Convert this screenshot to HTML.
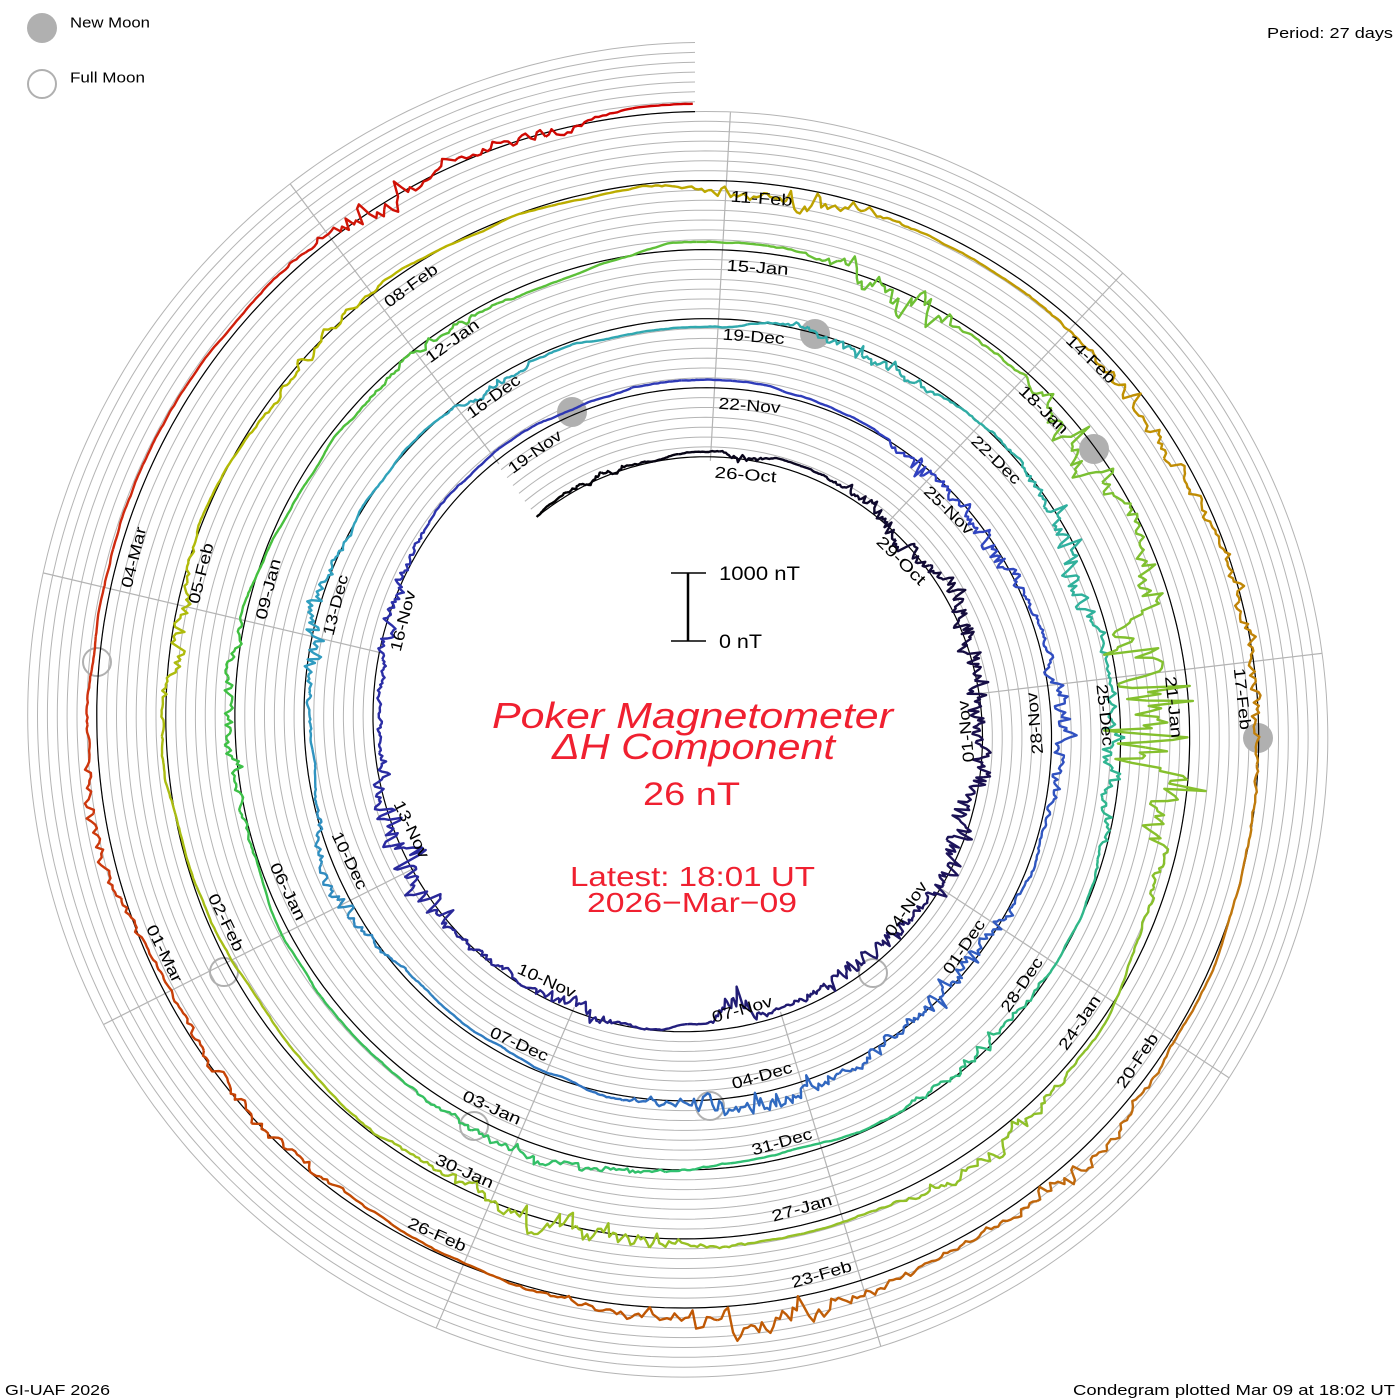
<!DOCTYPE html>
<html><head><meta charset="utf-8"><style>
html,body{margin:0;padding:0;background:#fff;}
svg{display:block;}
text{font-family:"Liberation Sans",sans-serif;}
</style></head><body>
<svg id="s" width="1400" height="1400" viewBox="0 0 1400 1400" xmlns="http://www.w3.org/2000/svg">
<rect width="1400" height="1400" fill="#fff"/>
<g id="rings" fill="none" stroke="#b4b4b4" stroke-width="1"></g>
<g id="radial" stroke="#b4b4b4" stroke-width="1.2"></g>
<g id="moons"></g>
<g id="base" fill="none" stroke="#000" stroke-width="1.2"></g>
<g id="data" fill="none" stroke-width="2.4" stroke-linejoin="round"></g>
<g id="labels" font-size="16" fill="#000"></g>
<circle cx="42" cy="28" r="15" fill="#b0b0b0"/>
<text x="70" y="23" font-size="15" textLength="80" lengthAdjust="spacingAndGlyphs" dominant-baseline="central">New Moon</text>
<circle cx="42" cy="84" r="14" fill="none" stroke="#b0b0b0" stroke-width="2"/>
<text x="70" y="78" font-size="15" textLength="75" lengthAdjust="spacingAndGlyphs" dominant-baseline="central">Full Moon</text>
<text x="1393" y="38" font-size="15" text-anchor="end" textLength="126" lengthAdjust="spacingAndGlyphs">Period: 27 days</text>
<text x="5" y="1395" font-size="15" textLength="105" lengthAdjust="spacingAndGlyphs">GI-UAF 2026</text>
<text x="1395" y="1395" font-size="15" text-anchor="end" textLength="322" lengthAdjust="spacingAndGlyphs">Condegram plotted Mar 09 at 18:02 UT</text>
<line x1="688" y1="573" x2="688" y2="641" stroke="#000" stroke-width="2.5"/>
<line x1="671" y1="573" x2="706" y2="573" stroke="#000" stroke-width="1.5"/>
<line x1="671" y1="641" x2="706" y2="641" stroke="#000" stroke-width="1.5"/>
<text x="719" y="580" font-size="19" textLength="81" lengthAdjust="spacingAndGlyphs">1000 nT</text>
<text x="719" y="648" font-size="19" textLength="43" lengthAdjust="spacingAndGlyphs">0 nT</text>
<g fill="#f02030">
<text x="492" y="728" font-family="Liberation Serif,serif" font-style="italic" font-size="36" textLength="401" lengthAdjust="spacingAndGlyphs">Poker Magnetometer</text>
<text x="552" y="759" font-family="Liberation Serif,serif" font-style="italic" font-size="36" textLength="283" lengthAdjust="spacingAndGlyphs">ΔH Component</text>
<text x="643" y="805" font-size="32" textLength="97" lengthAdjust="spacingAndGlyphs">26 nT</text>
<text x="570" y="886" font-size="28" textLength="245" lengthAdjust="spacingAndGlyphs">Latest: 18:01 UT</text>
<text x="587" y="912" font-size="28" textLength="210" lengthAdjust="spacingAndGlyphs">2026−Mar−09</text>
</g>
</svg>
<script>
(function(){
var NS="http://www.w3.org/2000/svg";
var cx=695,cy=727,T0=-37,T1=1800,D2R=Math.PI/180;
function base(t){return 270+0.1919*t;}
function pt(t,r){var a=t*D2R;return [cx+r*Math.sin(a),cy-r*Math.cos(a)];}
function el(n,a,p){var e=document.createElementNS(NS,n);for(var k in a)e.setAttribute(k,a[k]);document.getElementById(p).appendChild(e);return e;}
function spiralPath(off){var d="";for(var t=T0;t<=T1+0.01;t+=1){var p=pt(t,base(t)+off);d+=(d?"L":"M")+p[0].toFixed(1)+" "+p[1].toFixed(1);}return d;}
for(var k=1;k<=7;k++)el("path",{d:spiralPath(k*9.87)},"rings");
el("path",{d:spiralPath(0)},"base");
for(var j=0;j<9;j++){var t=3.3+40*j;var a=pt(t,base(t)-4),b=pt(t,base(t)+345);
el("line",{x1:a[0],y1:a[1],x2:b[0],y2:b[1]},"radial");}
[[815,334],[572,412],[1094,449],[1258,738]].forEach(function(m){el("circle",{cx:m[0],cy:m[1],r:15,fill:"#b0b0b0"},"moons");});
[[97,662],[224,972],[474,1126],[710,1106],[873,973]].forEach(function(m){el("circle",{cx:m[0],cy:m[1],r:14,fill:"none",stroke:"#b0b0b0","stroke-width":2},"moons");});
var mon=["Jan","Feb","Mar","Apr","May","Jun","Jul","Aug","Sep","Oct","Nov","Dec"];
var d0=Date.UTC(2025,9,26);
for(var j=0;j<=43;j++){
 var tl=3.3+40*j,dt=new Date(d0+3*j*86400000);
 var s=("0"+dt.getUTCDate()).slice(-2)+"-"+mon[dt.getUTCMonth()];
 var r=base(tl)-16,m=((tl%360)+360)%360;
 var fl=(m>90&&m<270)||j==2||j==11;
 var ph=tl+(5/r)/D2R,p=pt(ph,r);
 var e=el("text",{x:p[0].toFixed(1),y:p[1].toFixed(1),"text-anchor":fl?"end":"start","dominant-baseline":"central",
  transform:"rotate("+(fl?ph-180:ph).toFixed(2)+" "+p[0].toFixed(1)+" "+p[1].toFixed(1)+")",textLength:62,lengthAdjust:"spacingAndGlyphs"},"labels");
 e.textContent=s;
}
var seed=12345;function rnd(){seed|=0;seed=seed+0x6D2B79F5|0;var t=Math.imul(seed^seed>>>15,1|seed);t=t+Math.imul(t^t>>>7,61|t)^t;return((t^t>>>14)>>>0)/4294967296;}
var ev=[[-20,8,6,-1],[10,4,14,-1],[45,12,22,-1],[75,18,24,0],[110,16,28,0],[145,14,24,-1],[172,3,50,-1],[205,10,20,-1],[245,16,38,1],[290,12,12,0],
[402,6,26,-1],[420,9,24,-1],[450,10,26,0],[495,14,28,-1],[530,14,32,1],[605,10,20,1],[645,9,24,1],[690,6,12,-1],
[745,9,22,-1],[785,11,42,-1],[815,9,26,-1],[860,9,16,1],[920,13,16,1],[990,10,24,1],[1045,8,12,1],
[1105,8,40,-1],[1135,8,45,-1],[1168,13,145,-1],[1225,9,26,1],[1275,13,34,1],[1360,7,26,-1],[1395,7,16,1],
[1450,8,26,-1],[1495,9,20,-1],[1520,13,20,1],[1580,9,24,1],[1615,13,38,1],[1670,10,20,1],[1700,9,20,1],[1770,7,30,-1],[1785,5,22,-1]];
var cs=[[-37,"#000000"],[100,"#1a1050"],[250,"#2a2aa0"],[400,"#3040c0"],[550,"#3070c0"],[650,"#30a0c0"],[780,"#30b0a0"],[900,"#30c070"],[1000,"#40c040"],[1150,"#80c030"],[1300,"#a0c020"],[1400,"#b8b800"],[1480,"#c09800"],[1560,"#c07010"],[1640,"#c05000"],[1720,"#d03010"],[1800,"#d00000"]];
function hx(c){return [parseInt(c.substr(1,2),16),parseInt(c.substr(3,2),16),parseInt(c.substr(5,2),16)];}
function col(t){for(var i=0;i<cs.length-1;i++){if(t<=cs[i+1][0]){var f=(t-cs[i][0])/(cs[i+1][0]-cs[i][0]);var a=hx(cs[i][1]),b=hx(cs[i+1][1]);
return "rgb("+Math.round(a[0]+(b[0]-a[0])*f)+","+Math.round(a[1]+(b[1]-a[1])*f)+","+Math.round(a[2]+(b[2]-a[2])*f)+")";}}return cs[cs.length-1][1];}
var w=0,wv=0,jg=0,pts=[];
for(var t=T0;t<=T1;t+=0.35){
 wv=wv*0.9+(rnd()-0.5)*0.35; w=w*0.995+wv;
 if(w>8)w=8; if(w<-8)w=-8;
 var A=0.6,best=0,sg=0;
 for(var i=0;i<ev.length;i++){var g=ev[i][2]*Math.exp(-Math.pow((t-ev[i][0])/ev[i][1],2));A+=g;if(g>best){best=g;sg=ev[i][3];}}
 var dir=sg!==0?(rnd()<0.85?sg:-sg):(rnd()<0.5?-1:1);
 var nj=A*Math.pow(rnd(),1.5)*dir;
 jg=jg*0.55+nj*0.45;
 pts.push([t,pt(t,base(t)+w+jg)]);
}
var seg=24;
for(var i=0;i<pts.length-1;i+=seg){
 var d="";for(var k=i;k<=Math.min(i+seg,pts.length-1);k++){d+=(d?"L":"M")+pts[k][1][0].toFixed(1)+" "+pts[k][1][1].toFixed(1);}
 el("path",{d:d,stroke:col(pts[Math.min(i+seg/2,pts.length-1)][0])},"data");
}
})();
</script>
</body></html>
